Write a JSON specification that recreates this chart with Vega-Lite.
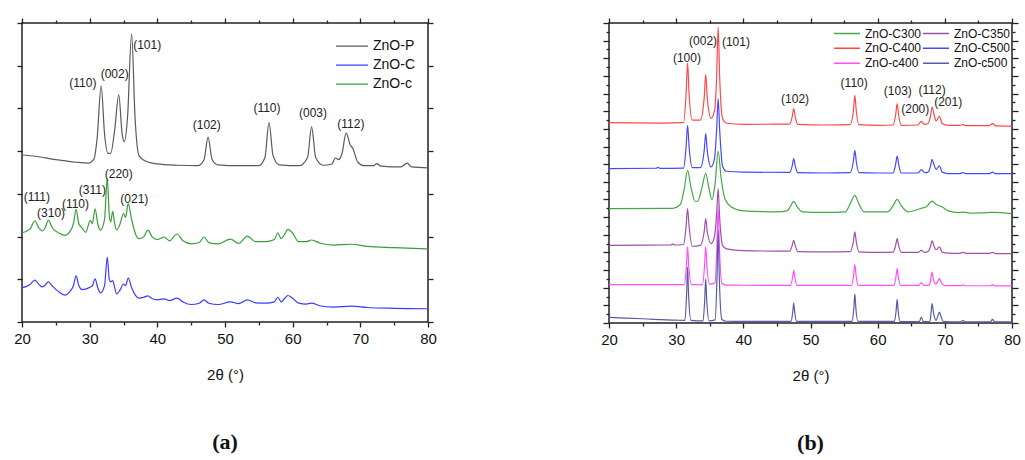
{
"$schema": "https://vega.github.io/schema/vega-lite/v6.json",
"padding": {"left": 12, "top": 16, "right": 0, "bottom": 0},
"background": "white",
"spacing": 161,
"config": {
  "view": {"stroke": "#222", "strokeWidth": 1.5},
  "font": "Liberation Sans",
  "axis": {"domain": false, "grid": false, "tickColor": "#222", "tickWidth": 1.3, "labelFont": "Liberation Sans", "labelFontSize": 15, "labelColor": "#111", "titleFont": "Liberation Sans", "titleFontSize": 15, "titleFontWeight": "normal", "titleColor": "#111"}
},
"datasets": {
"a": [
{"s":"ZnO-P","x":20,"y":3.91},{"s":"ZnO-P","x":22,"y":3.88},{"s":"ZnO-P","x":25,"y":3.8},{"s":"ZnO-P","x":28,"y":3.74},{"s":"ZnO-P","x":29.8,"y":3.72},{"s":"ZnO-P","x":30.6,"y":3.8},{"s":"ZnO-P","x":31.1,"y":4.3},{"s":"ZnO-P","x":31.7,"y":5.53},{"s":"ZnO-P","x":32.2,"y":4.4},{"s":"ZnO-P","x":32.7,"y":3.95},{"s":"ZnO-P","x":33.1,"y":3.95},{"s":"ZnO-P","x":33.7,"y":4.5},{"s":"ZnO-P","x":34.3,"y":5.32},{"s":"ZnO-P","x":34.8,"y":4.4},{"s":"ZnO-P","x":35.1,"y":4.22},{"s":"ZnO-P","x":35.6,"y":4.8},{"s":"ZnO-P","x":36.2,"y":6.75},{"s":"ZnO-P","x":36.7,"y":4.8},{"s":"ZnO-P","x":37.3,"y":3.89},{"s":"ZnO-P","x":38.5,"y":3.75},{"s":"ZnO-P","x":40,"y":3.7},{"s":"ZnO-P","x":43,"y":3.67},{"s":"ZnO-P","x":46,"y":3.66},{"s":"ZnO-P","x":46.9,"y":3.8},{"s":"ZnO-P","x":47.5,"y":4.33},{"s":"ZnO-P","x":48.1,"y":3.8},{"s":"ZnO-P","x":49,"y":3.68},{"s":"ZnO-P","x":52,"y":3.66},{"s":"ZnO-P","x":55,"y":3.66},{"s":"ZnO-P","x":55.9,"y":3.85},{"s":"ZnO-P","x":56.5,"y":4.67},{"s":"ZnO-P","x":57.1,"y":3.9},{"s":"ZnO-P","x":58,"y":3.68},{"s":"ZnO-P","x":61,"y":3.66},{"s":"ZnO-P","x":62.2,"y":3.85},{"s":"ZnO-P","x":62.8,"y":4.57},{"s":"ZnO-P","x":63.4,"y":3.85},{"s":"ZnO-P","x":64.5,"y":3.67},{"s":"ZnO-P","x":65.8,"y":3.7},{"s":"ZnO-P","x":66.3,"y":3.84},{"s":"ZnO-P","x":66.8,"y":3.8},{"s":"ZnO-P","x":67.3,"y":3.95},{"s":"ZnO-P","x":67.9,"y":4.43},{"s":"ZnO-P","x":68.5,"y":4.15},{"s":"ZnO-P","x":68.9,"y":4.06},{"s":"ZnO-P","x":69.6,"y":3.75},{"s":"ZnO-P","x":70.5,"y":3.66},{"s":"ZnO-P","x":72,"y":3.66},{"s":"ZnO-P","x":72.4,"y":3.71},{"s":"ZnO-P","x":73,"y":3.65},{"s":"ZnO-P","x":76,"y":3.63},{"s":"ZnO-P","x":76.9,"y":3.72},{"s":"ZnO-P","x":77.6,"y":3.63},{"s":"ZnO-P","x":80,"y":3.61},
{"s":"ZnO-C","x":20,"y":0.8},{"s":"ZnO-C","x":21.2,"y":0.88},{"s":"ZnO-C","x":21.9,"y":0.98},{"s":"ZnO-C","x":22.5,"y":0.88},{"s":"ZnO-C","x":23,"y":0.82},{"s":"ZnO-C","x":23.4,"y":0.86},{"s":"ZnO-C","x":23.9,"y":0.94},{"s":"ZnO-C","x":24.5,"y":0.84},{"s":"ZnO-C","x":25.5,"y":0.7},{"s":"ZnO-C","x":26.4,"y":0.63},{"s":"ZnO-C","x":27,"y":0.7},{"s":"ZnO-C","x":27.6,"y":0.85},{"s":"ZnO-C","x":28,"y":1.08},{"s":"ZnO-C","x":28.4,"y":0.85},{"s":"ZnO-C","x":28.9,"y":0.76},{"s":"ZnO-C","x":29.4,"y":0.77},{"s":"ZnO-C","x":30.1,"y":0.82},{"s":"ZnO-C","x":30.4,"y":0.85},{"s":"ZnO-C","x":30.8,"y":1.01},{"s":"ZnO-C","x":31.2,"y":0.8},{"s":"ZnO-C","x":31.6,"y":0.68},{"s":"ZnO-C","x":32.2,"y":0.85},{"s":"ZnO-C","x":32.6,"y":1.52},{"s":"ZnO-C","x":32.9,"y":1.0},{"s":"ZnO-C","x":33.1,"y":0.94},{"s":"ZnO-C","x":33.4,"y":0.97},{"s":"ZnO-C","x":33.7,"y":0.8},{"s":"ZnO-C","x":34,"y":0.66},{"s":"ZnO-C","x":34.5,"y":0.75},{"s":"ZnO-C","x":35,"y":0.89},{"s":"ZnO-C","x":35.3,"y":0.85},{"s":"ZnO-C","x":35.7,"y":1.03},{"s":"ZnO-C","x":36.2,"y":0.8},{"s":"ZnO-C","x":36.8,"y":0.62},{"s":"ZnO-C","x":37.3,"y":0.56},{"s":"ZnO-C","x":38,"y":0.58},{"s":"ZnO-C","x":38.6,"y":0.61},{"s":"ZnO-C","x":39.2,"y":0.55},{"s":"ZnO-C","x":40,"y":0.52},{"s":"ZnO-C","x":41,"y":0.54},{"s":"ZnO-C","x":41.8,"y":0.5},{"s":"ZnO-C","x":42.9,"y":0.56},{"s":"ZnO-C","x":43.8,"y":0.47},{"s":"ZnO-C","x":45,"y":0.41},{"s":"ZnO-C","x":46.2,"y":0.44},{"s":"ZnO-C","x":46.9,"y":0.52},{"s":"ZnO-C","x":47.6,"y":0.44},{"s":"ZnO-C","x":49,"y":0.41},{"s":"ZnO-C","x":50.8,"y":0.47},{"s":"ZnO-C","x":52,"y":0.43},{"s":"ZnO-C","x":53.3,"y":0.52},{"s":"ZnO-C","x":54.5,"y":0.45},{"s":"ZnO-C","x":56,"y":0.44},{"s":"ZnO-C","x":57.3,"y":0.47},{"s":"ZnO-C","x":57.8,"y":0.58},{"s":"ZnO-C","x":58.3,"y":0.47},{"s":"ZnO-C","x":58.8,"y":0.55},{"s":"ZnO-C","x":59.3,"y":0.62},{"s":"ZnO-C","x":59.9,"y":0.57},{"s":"ZnO-C","x":60.9,"y":0.44},{"s":"ZnO-C","x":62,"y":0.42},{"s":"ZnO-C","x":62.8,"y":0.44},{"s":"ZnO-C","x":64,"y":0.38},{"s":"ZnO-C","x":66,"y":0.35},{"s":"ZnO-C","x":68.7,"y":0.37},{"s":"ZnO-C","x":71,"y":0.34},{"s":"ZnO-C","x":75,"y":0.32},{"s":"ZnO-C","x":80,"y":0.31},
{"s":"ZnO-c","x":20,"y":2.09},{"s":"ZnO-c","x":21.2,"y":2.18},{"s":"ZnO-c","x":21.9,"y":2.37},{"s":"ZnO-c","x":22.5,"y":2.2},{"s":"ZnO-c","x":23,"y":2.13},{"s":"ZnO-c","x":23.4,"y":2.2},{"s":"ZnO-c","x":23.9,"y":2.38},{"s":"ZnO-c","x":24.5,"y":2.2},{"s":"ZnO-c","x":25.5,"y":2.08},{"s":"ZnO-c","x":26.4,"y":2.03},{"s":"ZnO-c","x":27,"y":2.1},{"s":"ZnO-c","x":27.6,"y":2.3},{"s":"ZnO-c","x":28,"y":2.64},{"s":"ZnO-c","x":28.4,"y":2.3},{"s":"ZnO-c","x":28.9,"y":2.2},{"s":"ZnO-c","x":29.4,"y":2.1},{"s":"ZnO-c","x":30.1,"y":2.38},{"s":"ZnO-c","x":30.4,"y":2.3},{"s":"ZnO-c","x":30.8,"y":2.65},{"s":"ZnO-c","x":31.2,"y":2.3},{"s":"ZnO-c","x":31.6,"y":2.15},{"s":"ZnO-c","x":32.2,"y":2.4},{"s":"ZnO-c","x":32.6,"y":3.36},{"s":"ZnO-c","x":32.9,"y":2.5},{"s":"ZnO-c","x":33.1,"y":2.34},{"s":"ZnO-c","x":33.4,"y":2.59},{"s":"ZnO-c","x":33.7,"y":2.3},{"s":"ZnO-c","x":34,"y":2.15},{"s":"ZnO-c","x":34.5,"y":2.3},{"s":"ZnO-c","x":35,"y":2.54},{"s":"ZnO-c","x":35.3,"y":2.45},{"s":"ZnO-c","x":35.7,"y":2.77},{"s":"ZnO-c","x":36.2,"y":2.4},{"s":"ZnO-c","x":36.8,"y":2.05},{"s":"ZnO-c","x":37.3,"y":1.95},{"s":"ZnO-c","x":38,"y":2.0},{"s":"ZnO-c","x":38.6,"y":2.15},{"s":"ZnO-c","x":39.2,"y":2.0},{"s":"ZnO-c","x":40,"y":1.93},{"s":"ZnO-c","x":41,"y":1.99},{"s":"ZnO-c","x":41.8,"y":1.9},{"s":"ZnO-c","x":42.9,"y":2.06},{"s":"ZnO-c","x":43.8,"y":1.9},{"s":"ZnO-c","x":45,"y":1.83},{"s":"ZnO-c","x":46.2,"y":1.86},{"s":"ZnO-c","x":46.9,"y":1.99},{"s":"ZnO-c","x":47.6,"y":1.86},{"s":"ZnO-c","x":49,"y":1.83},{"s":"ZnO-c","x":50.8,"y":1.94},{"s":"ZnO-c","x":52,"y":1.84},{"s":"ZnO-c","x":53.3,"y":2.01},{"s":"ZnO-c","x":54.5,"y":1.88},{"s":"ZnO-c","x":56,"y":1.88},{"s":"ZnO-c","x":57.3,"y":1.93},{"s":"ZnO-c","x":57.8,"y":2.09},{"s":"ZnO-c","x":58.3,"y":1.95},{"s":"ZnO-c","x":58.8,"y":2.05},{"s":"ZnO-c","x":59.3,"y":2.17},{"s":"ZnO-c","x":59.9,"y":2.1},{"s":"ZnO-c","x":60.9,"y":1.88},{"s":"ZnO-c","x":62,"y":1.88},{"s":"ZnO-c","x":62.8,"y":1.92},{"s":"ZnO-c","x":64,"y":1.85},{"s":"ZnO-c","x":66,"y":1.8},{"s":"ZnO-c","x":68.7,"y":1.82},{"s":"ZnO-c","x":71,"y":1.77},{"s":"ZnO-c","x":75,"y":1.74},{"s":"ZnO-c","x":80,"y":1.71}
],
"la": [
{"x":38.5,"y":6.49,"t":"(101)"},{"x":29.0,"y":5.6,"t":"(110)"},{"x":33.7,"y":5.81,"t":"(002)"},{"x":47.3,"y":4.61,"t":"(102)"},{"x":56.2,"y":5.01,"t":"(110)"},{"x":63.0,"y":4.89,"t":"(003)"},{"x":68.6,"y":4.63,"t":"(112)"},{"x":34.3,"y":3.47,"t":"(220)"},{"x":30.4,"y":3.09,"t":"(311)"},{"x":22.2,"y":2.93,"t":"(111)"},{"x":24.3,"y":2.55,"t":"(310)"},{"x":27.9,"y":2.76,"t":"(110)"},{"x":36.6,"y":2.88,"t":"(021)"}
],
"b": [
{"s":"ZnO-C400","x":20,"y":11.35},{"s":"ZnO-C400","x":28,"y":11.33},{"s":"ZnO-C400","x":31.1,"y":11.35},{"s":"ZnO-C400","x":31.48,"y":13.0},{"s":"ZnO-C400","x":31.7,"y":14.73},{"s":"ZnO-C400","x":31.92,"y":13.0},{"s":"ZnO-C400","x":32.4,"y":11.5},{"s":"ZnO-C400","x":33.6,"y":11.5},{"s":"ZnO-C400","x":34.18,"y":12.8},{"s":"ZnO-C400","x":34.4,"y":14.09},{"s":"ZnO-C400","x":34.62,"y":12.8},{"s":"ZnO-C400","x":35.2,"y":11.6},{"s":"ZnO-C400","x":35.7,"y":12.0},{"s":"ZnO-C400","x":36.03,"y":14.0},{"s":"ZnO-C400","x":36.25,"y":16.77},{"s":"ZnO-C400","x":36.47,"y":14.0},{"s":"ZnO-C400","x":36.9,"y":11.6},{"s":"ZnO-C400","x":37.5,"y":11.32},{"s":"ZnO-C400","x":40,"y":11.26},{"s":"ZnO-C400","x":46.9,"y":11.27},{"s":"ZnO-C400","x":47.28,"y":11.7},{"s":"ZnO-C400","x":47.5,"y":12.15},{"s":"ZnO-C400","x":47.72,"y":11.7},{"s":"ZnO-C400","x":48.1,"y":11.25},{"s":"ZnO-C400","x":52,"y":11.22},{"s":"ZnO-C400","x":55.9,"y":11.24},{"s":"ZnO-C400","x":56.38,"y":12.0},{"s":"ZnO-C400","x":56.6,"y":12.9},{"s":"ZnO-C400","x":56.82,"y":12.0},{"s":"ZnO-C400","x":57.2,"y":11.24},{"s":"ZnO-C400","x":60,"y":11.2},{"s":"ZnO-C400","x":62.3,"y":11.22},{"s":"ZnO-C400","x":62.68,"y":11.8},{"s":"ZnO-C400","x":62.9,"y":12.43},{"s":"ZnO-C400","x":63.12,"y":11.8},{"s":"ZnO-C400","x":63.5,"y":11.2},{"s":"ZnO-C400","x":66.0,"y":11.22},{"s":"ZnO-C400","x":66.5,"y":11.43},{"s":"ZnO-C400","x":67.0,"y":11.25},{"s":"ZnO-C400","x":67.5,"y":11.3},{"s":"ZnO-C400","x":67.88,"y":11.75},{"s":"ZnO-C400","x":68.1,"y":12.24},{"s":"ZnO-C400","x":68.4,"y":11.8},{"s":"ZnO-C400","x":68.7,"y":11.45},{"s":"ZnO-C400","x":69.2,"y":11.71},{"s":"ZnO-C400","x":69.6,"y":11.3},{"s":"ZnO-C400","x":70.5,"y":11.2},{"s":"ZnO-C400","x":72.2,"y":11.2},{"s":"ZnO-C400","x":72.7,"y":11.24},{"s":"ZnO-C400","x":73.2,"y":11.18},{"s":"ZnO-C400","x":76.6,"y":11.18},{"s":"ZnO-C400","x":77.1,"y":11.3},{"s":"ZnO-C400","x":77.6,"y":11.17},{"s":"ZnO-C400","x":80,"y":11.16},
{"s":"ZnO-C500","x":20,"y":8.75},{"s":"ZnO-C500","x":27,"y":8.77},{"s":"ZnO-C500","x":27.3,"y":8.82},{"s":"ZnO-C500","x":27.6,"y":8.76},{"s":"ZnO-C500","x":31.1,"y":8.78},{"s":"ZnO-C500","x":31.48,"y":10.0},{"s":"ZnO-C500","x":31.7,"y":11.2},{"s":"ZnO-C500","x":31.92,"y":10.0},{"s":"ZnO-C500","x":32.4,"y":8.8},{"s":"ZnO-C500","x":33.6,"y":8.8},{"s":"ZnO-C500","x":34.18,"y":9.8},{"s":"ZnO-C500","x":34.4,"y":10.73},{"s":"ZnO-C500","x":34.62,"y":9.8},{"s":"ZnO-C500","x":35.2,"y":8.85},{"s":"ZnO-C500","x":35.7,"y":9.3},{"s":"ZnO-C500","x":36.03,"y":11.0},{"s":"ZnO-C500","x":36.25,"y":12.71},{"s":"ZnO-C500","x":36.47,"y":11.0},{"s":"ZnO-C500","x":36.9,"y":8.9},{"s":"ZnO-C500","x":37.5,"y":8.6},{"s":"ZnO-C500","x":40,"y":8.55},{"s":"ZnO-C500","x":46.9,"y":8.53},{"s":"ZnO-C500","x":47.28,"y":8.9},{"s":"ZnO-C500","x":47.5,"y":9.31},{"s":"ZnO-C500","x":47.72,"y":8.9},{"s":"ZnO-C500","x":48.1,"y":8.52},{"s":"ZnO-C500","x":52,"y":8.5},{"s":"ZnO-C500","x":55.9,"y":8.52},{"s":"ZnO-C500","x":56.38,"y":9.15},{"s":"ZnO-C500","x":56.6,"y":9.78},{"s":"ZnO-C500","x":56.82,"y":9.15},{"s":"ZnO-C500","x":57.2,"y":8.52},{"s":"ZnO-C500","x":60,"y":8.5},{"s":"ZnO-C500","x":62.3,"y":8.5},{"s":"ZnO-C500","x":62.68,"y":9.0},{"s":"ZnO-C500","x":62.9,"y":9.46},{"s":"ZnO-C500","x":63.12,"y":9.0},{"s":"ZnO-C500","x":63.5,"y":8.5},{"s":"ZnO-C500","x":66.0,"y":8.5},{"s":"ZnO-C500","x":66.5,"y":8.69},{"s":"ZnO-C500","x":67.0,"y":8.52},{"s":"ZnO-C500","x":67.5,"y":8.55},{"s":"ZnO-C500","x":67.88,"y":8.9},{"s":"ZnO-C500","x":68.1,"y":9.27},{"s":"ZnO-C500","x":68.4,"y":8.95},{"s":"ZnO-C500","x":68.7,"y":8.7},{"s":"ZnO-C500","x":69.2,"y":8.9},{"s":"ZnO-C500","x":69.6,"y":8.55},{"s":"ZnO-C500","x":70.5,"y":8.47},{"s":"ZnO-C500","x":72.2,"y":8.47},{"s":"ZnO-C500","x":72.7,"y":8.52},{"s":"ZnO-C500","x":73.2,"y":8.46},{"s":"ZnO-C500","x":76.6,"y":8.46},{"s":"ZnO-C500","x":77.1,"y":8.55},{"s":"ZnO-C500","x":77.6,"y":8.46},{"s":"ZnO-C500","x":80,"y":8.46},
{"s":"ZnO-C300","x":20,"y":6.48},{"s":"ZnO-C300","x":29.5,"y":6.5},{"s":"ZnO-C300","x":30.6,"y":6.7},{"s":"ZnO-C300","x":31.2,"y":7.6},{"s":"ZnO-C300","x":31.7,"y":8.65},{"s":"ZnO-C300","x":32.2,"y":7.7},{"s":"ZnO-C300","x":32.8,"y":6.9},{"s":"ZnO-C300","x":33.2,"y":6.9},{"s":"ZnO-C300","x":33.8,"y":7.6},{"s":"ZnO-C300","x":34.4,"y":8.46},{"s":"ZnO-C300","x":34.9,"y":7.6},{"s":"ZnO-C300","x":35.3,"y":7.0},{"s":"ZnO-C300","x":35.8,"y":7.9},{"s":"ZnO-C300","x":36.25,"y":9.73},{"s":"ZnO-C300","x":36.7,"y":8.2},{"s":"ZnO-C300","x":37.3,"y":7.0},{"s":"ZnO-C300","x":38.2,"y":6.57},{"s":"ZnO-C300","x":40,"y":6.35},{"s":"ZnO-C300","x":45,"y":6.3},{"s":"ZnO-C300","x":46.5,"y":6.35},{"s":"ZnO-C300","x":47.0,"y":6.6},{"s":"ZnO-C300","x":47.5,"y":6.89},{"s":"ZnO-C300","x":48.0,"y":6.6},{"s":"ZnO-C300","x":48.8,"y":6.3},{"s":"ZnO-C300","x":52,"y":6.27},{"s":"ZnO-C300","x":55.2,"y":6.3},{"s":"ZnO-C300","x":55.9,"y":6.75},{"s":"ZnO-C300","x":56.6,"y":7.23},{"s":"ZnO-C300","x":57.2,"y":6.75},{"s":"ZnO-C300","x":58,"y":6.3},{"s":"ZnO-C300","x":61.5,"y":6.3},{"s":"ZnO-C300","x":62.3,"y":6.65},{"s":"ZnO-C300","x":62.9,"y":7.01},{"s":"ZnO-C300","x":63.5,"y":6.65},{"s":"ZnO-C300","x":64.5,"y":6.3},{"s":"ZnO-C300","x":66.5,"y":6.5},{"s":"ZnO-C300","x":67.3,"y":6.6},{"s":"ZnO-C300","x":68.1,"y":6.91},{"s":"ZnO-C300","x":68.8,"y":6.7},{"s":"ZnO-C300","x":69.5,"y":6.6},{"s":"ZnO-C300","x":70.5,"y":6.35},{"s":"ZnO-C300","x":72,"y":6.25},{"s":"ZnO-C300","x":72.7,"y":6.28},{"s":"ZnO-C300","x":74,"y":6.22},{"s":"ZnO-C300","x":77.1,"y":6.27},{"s":"ZnO-C300","x":80,"y":6.2},
{"s":"ZnO-C350","x":20,"y":4.4},{"s":"ZnO-C350","x":29.2,"y":4.42},{"s":"ZnO-C350","x":29.5,"y":4.48},{"s":"ZnO-C350","x":29.8,"y":4.42},{"s":"ZnO-C350","x":31.1,"y":4.45},{"s":"ZnO-C350","x":31.48,"y":5.5},{"s":"ZnO-C350","x":31.7,"y":6.48},{"s":"ZnO-C350","x":31.92,"y":5.5},{"s":"ZnO-C350","x":32.4,"y":4.35},{"s":"ZnO-C350","x":33.6,"y":4.4},{"s":"ZnO-C350","x":34.18,"y":5.2},{"s":"ZnO-C350","x":34.4,"y":5.91},{"s":"ZnO-C350","x":34.62,"y":5.2},{"s":"ZnO-C350","x":35.2,"y":4.5},{"s":"ZnO-C350","x":35.7,"y":4.9},{"s":"ZnO-C350","x":36.03,"y":6.2},{"s":"ZnO-C350","x":36.25,"y":7.61},{"s":"ZnO-C350","x":36.47,"y":6.0},{"s":"ZnO-C350","x":36.9,"y":4.4},{"s":"ZnO-C350","x":37.5,"y":4.2},{"s":"ZnO-C350","x":40,"y":4.1},{"s":"ZnO-C350","x":46.9,"y":4.07},{"s":"ZnO-C350","x":47.28,"y":4.4},{"s":"ZnO-C350","x":47.5,"y":4.68},{"s":"ZnO-C350","x":47.72,"y":4.4},{"s":"ZnO-C350","x":48.1,"y":4.05},{"s":"ZnO-C350","x":52,"y":4.03},{"s":"ZnO-C350","x":55.9,"y":4.05},{"s":"ZnO-C350","x":56.38,"y":4.6},{"s":"ZnO-C350","x":56.6,"y":5.16},{"s":"ZnO-C350","x":56.82,"y":4.6},{"s":"ZnO-C350","x":57.2,"y":4.03},{"s":"ZnO-C350","x":60,"y":4.0},{"s":"ZnO-C350","x":62.3,"y":4.02},{"s":"ZnO-C350","x":62.68,"y":4.4},{"s":"ZnO-C350","x":62.9,"y":4.78},{"s":"ZnO-C350","x":63.12,"y":4.4},{"s":"ZnO-C350","x":63.5,"y":4.0},{"s":"ZnO-C350","x":66.0,"y":4.0},{"s":"ZnO-C350","x":66.5,"y":4.12},{"s":"ZnO-C350","x":67.0,"y":4.0},{"s":"ZnO-C350","x":67.5,"y":4.05},{"s":"ZnO-C350","x":67.88,"y":4.35},{"s":"ZnO-C350","x":68.1,"y":4.65},{"s":"ZnO-C350","x":68.4,"y":4.35},{"s":"ZnO-C350","x":68.7,"y":4.15},{"s":"ZnO-C350","x":69.2,"y":4.31},{"s":"ZnO-C350","x":69.6,"y":4.02},{"s":"ZnO-C350","x":70.5,"y":3.96},{"s":"ZnO-C350","x":72.2,"y":3.95},{"s":"ZnO-C350","x":72.7,"y":4.0},{"s":"ZnO-C350","x":73.2,"y":3.95},{"s":"ZnO-C350","x":76.6,"y":3.94},{"s":"ZnO-C350","x":77.1,"y":4.0},{"s":"ZnO-C350","x":77.6,"y":3.93},{"s":"ZnO-C350","x":80,"y":3.93},
{"s":"ZnO-c400","x":20,"y":2.17},{"s":"ZnO-c400","x":31.2,"y":2.17},{"s":"ZnO-c400","x":31.52,"y":3.2},{"s":"ZnO-c400","x":31.7,"y":4.31},{"s":"ZnO-c400","x":31.88,"y":3.2},{"s":"ZnO-c400","x":32.3,"y":2.17},{"s":"ZnO-c400","x":33.9,"y":2.17},{"s":"ZnO-c400","x":34.22,"y":3.2},{"s":"ZnO-c400","x":34.4,"y":4.34},{"s":"ZnO-c400","x":34.58,"y":3.2},{"s":"ZnO-c400","x":35.0,"y":2.2},{"s":"ZnO-c400","x":35.8,"y":2.3},{"s":"ZnO-c400","x":36.07,"y":4.4},{"s":"ZnO-c400","x":36.25,"y":6.63},{"s":"ZnO-c400","x":36.43,"y":4.4},{"s":"ZnO-c400","x":36.8,"y":2.25},{"s":"ZnO-c400","x":37.5,"y":2.15},{"s":"ZnO-c400","x":40,"y":2.14},{"s":"ZnO-c400","x":47.0,"y":2.13},{"s":"ZnO-c400","x":47.32,"y":2.55},{"s":"ZnO-c400","x":47.5,"y":2.98},{"s":"ZnO-c400","x":47.68,"y":2.55},{"s":"ZnO-c400","x":48.0,"y":2.13},{"s":"ZnO-c400","x":56.1,"y":2.13},{"s":"ZnO-c400","x":56.42,"y":2.7},{"s":"ZnO-c400","x":56.6,"y":3.31},{"s":"ZnO-c400","x":56.78,"y":2.7},{"s":"ZnO-c400","x":57.1,"y":2.13},{"s":"ZnO-c400","x":62.4,"y":2.13},{"s":"ZnO-c400","x":62.72,"y":2.6},{"s":"ZnO-c400","x":62.9,"y":3.08},{"s":"ZnO-c400","x":63.08,"y":2.6},{"s":"ZnO-c400","x":63.4,"y":2.13},{"s":"ZnO-c400","x":66.1,"y":2.13},{"s":"ZnO-c400","x":66.5,"y":2.29},{"s":"ZnO-c400","x":66.9,"y":2.13},{"s":"ZnO-c400","x":67.7,"y":2.15},{"s":"ZnO-c400","x":67.92,"y":2.5},{"s":"ZnO-c400","x":68.1,"y":2.89},{"s":"ZnO-c400","x":68.28,"y":2.5},{"s":"ZnO-c400","x":68.65,"y":2.2},{"s":"ZnO-c400","x":69.0,"y":2.4},{"s":"ZnO-c400","x":69.2,"y":2.51},{"s":"ZnO-c400","x":69.45,"y":2.3},{"s":"ZnO-c400","x":69.9,"y":2.12},{"s":"ZnO-c400","x":72.4,"y":2.12},{"s":"ZnO-c400","x":72.7,"y":2.16},{"s":"ZnO-c400","x":73.0,"y":2.11},{"s":"ZnO-c400","x":76.8,"y":2.11},{"s":"ZnO-c400","x":77.1,"y":2.17},{"s":"ZnO-c400","x":77.4,"y":2.1},{"s":"ZnO-c400","x":80,"y":2.1},
{"s":"ZnO-c500","x":20,"y":0.32},{"s":"ZnO-c500","x":25,"y":0.24},{"s":"ZnO-c500","x":30,"y":0.16},{"s":"ZnO-c500","x":31.3,"y":0.15},{"s":"ZnO-c500","x":31.55,"y":1.6},{"s":"ZnO-c500","x":31.7,"y":3.17},{"s":"ZnO-c500","x":31.85,"y":1.6},{"s":"ZnO-c500","x":32.2,"y":0.15},{"s":"ZnO-c500","x":34.0,"y":0.12},{"s":"ZnO-c500","x":34.25,"y":1.3},{"s":"ZnO-c500","x":34.4,"y":2.51},{"s":"ZnO-c500","x":34.55,"y":1.3},{"s":"ZnO-c500","x":34.9,"y":0.12},{"s":"ZnO-c500","x":35.8,"y":0.18},{"s":"ZnO-c500","x":36.08,"y":2.6},{"s":"ZnO-c500","x":36.25,"y":5.25},{"s":"ZnO-c500","x":36.42,"y":2.6},{"s":"ZnO-c500","x":36.8,"y":0.2},{"s":"ZnO-c500","x":37.5,"y":0.1},{"s":"ZnO-c500","x":40,"y":0.09},{"s":"ZnO-c500","x":47.1,"y":0.09},{"s":"ZnO-c500","x":47.35,"y":0.6},{"s":"ZnO-c500","x":47.5,"y":1.13},{"s":"ZnO-c500","x":47.65,"y":0.6},{"s":"ZnO-c500","x":47.95,"y":0.09},{"s":"ZnO-c500","x":56.2,"y":0.09},{"s":"ZnO-c500","x":56.45,"y":0.85},{"s":"ZnO-c500","x":56.6,"y":1.64},{"s":"ZnO-c500","x":56.75,"y":0.85},{"s":"ZnO-c500","x":57.05,"y":0.09},{"s":"ZnO-c500","x":62.5,"y":0.09},{"s":"ZnO-c500","x":62.75,"y":0.7},{"s":"ZnO-c500","x":62.9,"y":1.34},{"s":"ZnO-c500","x":63.05,"y":0.7},{"s":"ZnO-c500","x":63.35,"y":0.08},{"s":"ZnO-c500","x":66.2,"y":0.08},{"s":"ZnO-c500","x":66.5,"y":0.34},{"s":"ZnO-c500","x":66.8,"y":0.08},{"s":"ZnO-c500","x":67.8,"y":0.1},{"s":"ZnO-c500","x":67.95,"y":0.6},{"s":"ZnO-c500","x":68.1,"y":1.1},{"s":"ZnO-c500","x":68.3,"y":0.6},{"s":"ZnO-c500","x":68.7,"y":0.15},{"s":"ZnO-c500","x":69.0,"y":0.45},{"s":"ZnO-c500","x":69.2,"y":0.62},{"s":"ZnO-c500","x":69.4,"y":0.4},{"s":"ZnO-c500","x":69.8,"y":0.08},{"s":"ZnO-c500","x":72.4,"y":0.07},{"s":"ZnO-c500","x":72.7,"y":0.15},{"s":"ZnO-c500","x":73.0,"y":0.07},{"s":"ZnO-c500","x":76.8,"y":0.07},{"s":"ZnO-c500","x":77.1,"y":0.2},{"s":"ZnO-c500","x":77.4,"y":0.07},{"s":"ZnO-c500","x":80,"y":0.06}
],
"lb": [
{"x":31.6,"y":15.02,"t":"(100)"},{"x":34.0,"y":15.98,"t":"(002)"},{"x":38.9,"y":15.92,"t":"(101)"},{"x":47.7,"y":12.71,"t":"(102)"},{"x":56.5,"y":13.6,"t":"(110)"},{"x":63.0,"y":13.13,"t":"(103)"},{"x":65.6,"y":12.11,"t":"(200)"},{"x":68.1,"y":13.22,"t":"(112)"},{"x":70.5,"y":12.52,"t":"(201)"}
]
},
"resolve": {"scale": {"color": "independent"}},
"hconcat": [
{
  "width": 406, "height": 299,
  "title": {"text": "(a)", "orient": "bottom", "anchor": "middle", "frame": "group", "offset": 50, "font": "Liberation Serif", "fontSize": 22, "fontWeight": "bold", "color": "#111"},
  "resolve": {"axis": {"x": "independent", "y": "independent"}},
  "layer": [
    {
      "data": {"name": "a"},
      "mark": {"type": "line", "strokeWidth": 1.2, "interpolate": "monotone"},
      "encoding": {
        "x": {"field": "x", "type": "quantitative", "scale": {"domain": [20, 80], "nice": false, "zero": false},
              "axis": {"orient": "bottom", "title": "2θ (°)", "values": [20,25,30,35,40,45,50,55,60,65,70,75,80], "labelExpr": "datum.value % 10 === 0 ? datum.label : ''", "tickSize": {"condition": {"test": "datum.value % 10 !== 0", "value": 3}, "value": 5}, "labelPadding": 4, "titlePadding": 21, "labelFlush": false}},
        "y": {"field": "y", "type": "quantitative", "scale": {"domain": [0, 7], "nice": false, "zero": false},
              "axis": {"orient": "left", "title": null, "values": [0,1,2,3,4,5,6,7], "labels": false, "tickSize": 5}},
        "color": {"field": "s", "type": "nominal", "sort": ["ZnO-P","ZnO-C","ZnO-c"],
                  "scale": {"domain": ["ZnO-P","ZnO-C","ZnO-c"], "range": ["#5a5a5a","#3c3cff","#3a9e3a"]},
                  "legend": {"title": null, "orient": "none", "legendX": 313, "legendY": 14, "padding": 0, "symbolType": "stroke", "symbolSize": 1024, "symbolStrokeWidth": 1.3, "labelFontSize": 14, "labelFont": "Liberation Sans", "labelColor": "#111", "labelOffset": 4, "clipHeight": 18.3, "rowPadding": 0}},
        "detail": {"field": "s"}
      }
    },
    {
      "data": {"name": "la"},
      "mark": {"type": "text", "fontSize": 12, "font": "Liberation Sans", "color": "#222", "align": "center", "baseline": "middle"},
      "encoding": {
        "x": {"field": "x", "type": "quantitative", "axis": {"orient": "top", "title": null, "values": [20,25,30,35,40,45,50,55,60,65,70,75,80], "labels": false, "tickSize": {"condition": {"test": "datum.value % 10 !== 0", "value": 3}, "value": 5}}},
        "y": {"field": "y", "type": "quantitative", "axis": {"orient": "right", "title": null, "values": [0,1,2,3,4,5,6,7], "labels": false, "tickSize": 5}},
        "text": {"field": "t"}
      }
    }
  ]
},
{
  "width": 403, "height": 300,
  "title": {"text": "(b)", "orient": "bottom", "anchor": "middle", "frame": "group", "offset": 50, "font": "Liberation Serif", "fontSize": 22, "fontWeight": "bold", "color": "#111"},
  "resolve": {"axis": {"x": "independent", "y": "independent"}},
  "layer": [
    {
      "data": {"name": "b"},
      "mark": {"type": "line", "strokeWidth": 1.2, "interpolate": "monotone"},
      "encoding": {
        "x": {"field": "x", "type": "quantitative", "scale": {"domain": [20, 80], "nice": false, "zero": false},
              "axis": {"orient": "bottom", "title": "2θ (°)", "values": [20,25,30,35,40,45,50,55,60,65,70,75,80], "labelExpr": "datum.value % 10 === 0 ? datum.label : ''", "tickSize": {"condition": {"test": "datum.value % 10 !== 0", "value": 3}, "value": 5}, "labelPadding": 4, "titlePadding": 21, "labelFlush": false}},
        "y": {"field": "y", "type": "quantitative", "scale": {"domain": [0, 17], "nice": false, "zero": false},
              "axis": {"orient": "left", "title": null, "values": [0,0.5,1,1.5,2,2.5,3,3.5,4,4.5,5,5.5,6,6.5,7,7.5,8,8.5,9,9.5,10,10.5,11,11.5,12,12.5,13,13.5,14,14.5,15,15.5,16,16.5,17], "labels": false, "tickSize": {"condition": {"test": "datum.value % 1 !== 0", "value": 3}, "value": 6}}},
        "color": {"field": "s", "type": "nominal", "sort": ["ZnO-C300","ZnO-C400","ZnO-c400","ZnO-C350","ZnO-C500","ZnO-c500"],
                  "scale": {"domain": ["ZnO-C300","ZnO-C400","ZnO-c400","ZnO-C350","ZnO-C500","ZnO-c500"], "range": ["#45a845","#ff4848","#ff50ff","#a050a8","#4848ff","#5a5aa8"]},
                  "legend": {"title": null, "orient": "none", "legendX": 224, "legendY": 3, "padding": 0, "columns": 2, "columnPadding": -27, "symbolType": "stroke", "symbolSize": 676, "symbolStrokeWidth": 1.3, "labelFontSize": 12, "labelFont": "Liberation Sans", "labelColor": "#111", "labelOffset": 4, "clipHeight": 14.5, "rowPadding": 0}},
        "detail": {"field": "s"}
      }
    },
    {
      "data": {"name": "lb"},
      "mark": {"type": "text", "fontSize": 12, "font": "Liberation Sans", "color": "#222", "align": "center", "baseline": "middle"},
      "encoding": {
        "x": {"field": "x", "type": "quantitative", "axis": {"orient": "top", "title": null, "values": [20,25,30,35,40,45,50,55,60,65,70,75,80], "labels": false, "tickSize": {"condition": {"test": "datum.value % 10 !== 0", "value": 3}, "value": 5}}},
        "y": {"field": "y", "type": "quantitative", "axis": {"orient": "right", "title": null, "values": [0,0.5,1,1.5,2,2.5,3,3.5,4,4.5,5,5.5,6,6.5,7,7.5,8,8.5,9,9.5,10,10.5,11,11.5,12,12.5,13,13.5,14,14.5,15,15.5,16,16.5,17], "labels": false, "tickSize": {"condition": {"test": "datum.value % 1 !== 0", "value": 3}, "value": 6}}},
        "text": {"field": "t"}
      }
    }
  ]
}
]
}
